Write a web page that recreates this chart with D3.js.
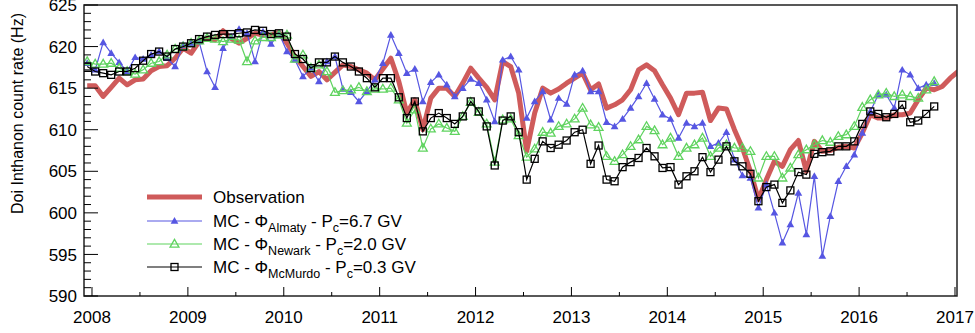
<!DOCTYPE html>
<html>
<head>
<meta charset="utf-8">
<script src="https://cdn.jsdelivr.net/npm/d3@7"></script>
<style>
  body { margin: 0; background: #fff; }
  text { font-family: "Liberation Sans", Arial, Helvetica, sans-serif; }
</style>
</head>
<body>
<div id="chart"></div>
<script>
// monthly points; first point sits just before the 2008 tick
var firstMonth = 2007.95;

var observation = [615.3, 615.3, 614.0, 615.1, 616.2, 615.4, 616.0, 616.1, 617.1, 617.6, 617.7, 618.6,
    619.8, 619.2, 620.6, 621.0, 620.8, 621.9, 621.0, 620.4, 621.0, 621.6, 621.4, 621.4,
    621.7, 620.4, 618.8, 617.6, 616.4, 617.0, 616.0, 616.9, 617.8, 617.6, 617.2, 616.8,
    616.0, 617.3, 618.6, 615.8, 612.0, 613.6, 610.0, 613.8, 615.0, 615.0, 614.0, 615.6,
    617.4, 616.2, 615.1, 613.6, 618.2, 617.6, 614.4, 607.4, 612.0, 615.0, 614.4, 614.9,
    615.6, 616.2, 616.8, 614.8, 615.5, 612.6, 613.0, 613.6, 614.8, 617.2, 617.8, 617.1,
    615.4, 613.8, 611.8, 614.4, 614.4, 614.5, 611.1, 612.6, 612.5, 610.0, 607.8, 605.0,
    601.6, 604.0, 606.2, 605.6, 607.6, 608.7, 605.0, 608.6, 607.4, 607.5, 607.9, 608.0,
    607.8, 609.6, 611.8, 611.4, 611.4, 611.8, 611.8, 612.0, 613.6, 615.0, 614.8, 615.2,
    616.2, 617.0];

var mcAlmaty = [618.0, 617.2, 620.5, 619.2, 618.1, 617.0, 618.7, 618.5, 619.0, 619.4, 618.6, 617.6,
    620.2, 620.4, 620.6, 617.0, 615.1, 619.8, 621.2, 622.1, 621.6, 618.2, 621.8, 620.3,
    621.6, 619.4, 618.4, 616.4, 617.4, 615.8, 618.2, 618.8, 614.9, 614.5, 613.4, 614.6,
    616.0, 618.0, 621.4, 619.2, 616.8, 617.3, 613.4, 615.7, 616.6, 615.4, 614.0, 615.0,
    616.1, 615.6, 613.6, 611.0, 618.4, 618.8, 617.2, 611.4, 613.4, 614.6, 611.2, 613.8,
    613.1, 616.6, 617.1, 614.6, 614.6, 610.9, 610.4, 611.3, 612.6, 614.0, 615.6, 613.7,
    611.8, 611.3, 609.0, 610.8, 610.4, 610.8, 608.0, 608.4, 609.7, 606.4, 604.5, 604.2,
    600.6, 603.4, 600.0, 596.4, 598.6, 602.4, 597.4, 604.4, 594.8, 599.6, 603.8, 605.6,
    607.0, 609.6, 612.2, 614.2, 614.2, 612.6, 617.2, 616.6, 615.0, 615.4, 615.6];

var mcNewark = [618.2, 617.9, 617.9, 618.0, 617.4, 617.0, 616.7, 617.2, 618.0, 618.2, 619.0, 619.7,
    620.0, 620.4, 620.7, 621.0, 620.9, 620.6, 620.9, 620.8, 618.2, 620.7, 621.1, 621.1,
    621.4, 621.4, 618.5, 619.0, 617.4, 617.8, 617.0, 614.5, 614.7, 614.8, 615.1, 614.6,
    614.9, 614.9, 615.0, 613.6, 610.8, 612.4, 607.8, 610.1, 610.7, 610.2, 609.8, 611.6,
    613.3, 612.1, 610.7, 606.1, 611.2, 611.3, 609.3, 606.7, 607.7, 609.7, 609.6, 610.4,
    610.7, 611.3, 612.6, 610.6, 610.3, 606.8, 606.2, 607.0, 608.0, 608.8, 610.4, 609.9,
    608.2, 609.0, 606.8, 607.8, 608.2, 609.0, 606.8, 607.8, 608.2, 607.8, 607.8, 607.4,
    604.2, 606.8, 606.8, 604.2, 605.4, 607.0, 607.6, 608.2, 608.7, 608.5, 609.2, 609.4,
    610.4, 612.7, 613.6, 614.2, 614.4, 614.0, 614.2, 614.0, 613.8, 614.8, 615.8];

var mcMcMurdo = [617.6, 617.0, 616.8, 616.6, 617.0, 617.0, 617.4, 618.3, 619.1, 619.4, 618.8, 619.7,
    620.0, 620.4, 620.9, 621.2, 621.4, 621.5, 621.5, 621.6, 621.7, 622.0, 621.9, 621.5,
    621.6, 621.2, 619.1, 618.5, 617.4, 618.1, 618.1, 618.8, 618.1, 617.6, 617.0, 616.2,
    615.1, 616.2, 616.2, 613.9, 611.4, 613.4, 609.8, 611.4, 612.0, 611.4, 610.7, 611.6,
    613.4, 612.2, 610.4, 605.7, 611.1, 611.6, 609.7, 604.0, 606.5, 608.6, 607.8, 608.2,
    608.7, 609.7, 610.0, 605.9, 608.1, 604.0, 603.8, 605.5, 606.1, 606.6, 607.8, 606.8,
    605.4, 605.5, 603.4, 604.4, 605.0, 606.7, 604.9, 606.4, 608.0, 606.2, 605.6, 604.7,
    601.4, 603.1, 603.4, 601.2, 602.7, 604.9, 604.6, 607.1, 607.3, 607.4, 608.0, 608.0,
    608.6, 610.7, 612.2, 611.9, 611.5, 611.9, 613.0, 610.9, 611.1, 611.9, 612.8];

var yearTicks = [2008, 2009, 2010, 2011, 2012, 2013, 2014, 2015, 2016, 2017];
var rateTicks = [590, 595, 600, 605, 610, 615, 620, 625];

var width = 975;
var height = 333;
var plotL = 84, plotR = 957, plotT = 5, plotB = 296;

var red = "#cf5b5b";
var blue = "#5656e2";
var green = "#5fd35f";

var x = d3.scaleLinear().domain([2007.9166, 2017.021]).range([plotL, plotR]);
var y = d3.scaleLinear().domain([590, 625]).range([plotB, plotT]);

var svg = d3.select("#chart").append("svg")
    .attr("width", width)
    .attr("height", height);

svg.append("clipPath").attr("id", "plotclip")
    .append("rect")
    .attr("x", plotL).attr("y", plotT)
    .attr("width", plotR - plotL).attr("height", plotB - plotT);

function toPoints(values) {
    return values.map(function(v, i) { return { t: firstMonth + i / 12, v: v }; });
}

var line = d3.line()
    .x(function(d) { return x(d.t); })
    .y(function(d) { return y(d.v); });

var plot = svg.append("g").attr("clip-path", "url(#plotclip)");

// observation, thick red
plot.append("path")
    .datum(toPoints(observation))
    .attr("d", line)
    .attr("fill", "none")
    .attr("stroke", red)
    .attr("stroke-width", 5)
    .attr("stroke-linejoin", "round");

var triUp = d3.symbol().type(d3.symbolTriangle);

function drawSeries(values, colour, marker) {
    var pts = toPoints(values);
    plot.append("path")
        .datum(pts)
        .attr("d", line)
        .attr("fill", "none")
        .attr("stroke", colour)
        .attr("stroke-width", 1.2);
    var g = plot.append("g");
    pts.forEach(function(d) {
        marker(g, x(d.t), y(d.v));
    });
}

function filledTriangle(colour) {
    return function(g, cx, cy) {
        g.append("path")
            .attr("d", triUp.size(26)())
            .attr("transform", "translate(" + cx + "," + (cy + 0.5) + ")")
            .attr("fill", colour);
    };
}

function openTriangle(colour) {
    return function(g, cx, cy) {
        g.append("path")
            .attr("d", triUp.size(34)())
            .attr("transform", "translate(" + cx + "," + (cy + 0.5) + ")")
            .attr("fill", "none")
            .attr("stroke", colour)
            .attr("stroke-width", 1.3);
    };
}

function openSquare(colour) {
    return function(g, cx, cy) {
        g.append("rect")
            .attr("x", cx - 3.5).attr("y", cy - 3.5)
            .attr("width", 7).attr("height", 7)
            .attr("fill", "none")
            .attr("stroke", colour)
            .attr("stroke-width", 1.3);
    };
}

drawSeries(mcAlmaty, blue, filledTriangle(blue));
drawSeries(mcNewark, green, openTriangle(green));
drawSeries(mcMcMurdo, "#000", openSquare("#000"));

// frame
svg.append("rect")
    .attr("x", plotL).attr("y", plotT)
    .attr("width", plotR - plotL).attr("height", plotB - plotT)
    .attr("fill", "none")
    .attr("stroke", "#222")
    .attr("stroke-width", 1.5);

// y ticks (major every 5, minor every 1)
var axes = svg.append("g").attr("stroke", "#000").attr("stroke-width", 1);
d3.range(590, 626, 1).forEach(function(v) {
    var len = (v % 5 === 0) ? 14 : 7;
    axes.append("line")
        .attr("x1", plotL).attr("x2", plotL + len)
        .attr("y1", y(v)).attr("y2", y(v));
});
// x ticks (major every year, minor every half year)
d3.range(2008, 2017.01, 0.5).forEach(function(t) {
    var len = (Math.abs(t - Math.round(t)) < 0.01) ? 9 : 4;
    axes.append("line")
        .attr("x1", x(t)).attr("x2", x(t))
        .attr("y1", plotB).attr("y2", plotB - len);
});

svg.append("g").selectAll("text")
    .data(rateTicks)
    .enter().append("text")
    .attr("x", 77)
    .attr("y", function(d) { return y(d); })
    .attr("dy", "0.36em")
    .attr("text-anchor", "end")
    .attr("font-size", 17)
    .text(function(d) { return d; });

svg.append("g").selectAll("text")
    .data(yearTicks)
    .enter().append("text")
    .attr("x", function(d) { return x(d); })
    .attr("y", 323)
    .attr("text-anchor", "middle")
    .attr("font-size", 17)
    .text(function(d) { return d; });

svg.append("text")
    .attr("transform", "translate(23,13)rotate(-90)")
    .attr("text-anchor", "end")
    .attr("font-size", 16)
    .text("Doi Inthanon count rate (Hz)");

// legend
var legend = svg.append("g");
var lx0 = 147, lx1 = 202, tx = 213;

legend.append("line")
    .attr("x1", lx0).attr("x2", lx1).attr("y1", 197).attr("y2", 197)
    .attr("stroke", red).attr("stroke-width", 5);
legend.append("text")
    .attr("x", tx).attr("y", 197).attr("dy", "0.36em")
    .attr("font-size", 17).text("Observation");

var entries = [
    { y: 221, colour: blue, marker: filledTriangle(blue), name: "Almaty", pc: "=6.7 GV" },
    { y: 244, colour: green, marker: openTriangle(green), name: "Newark", pc: "=2.0 GV" },
    { y: 267, colour: "#000", marker: openSquare("#000"), name: "McMurdo", pc: "=0.3 GV" }
];
entries.forEach(function(e) {
    legend.append("line")
        .attr("x1", lx0).attr("x2", lx1).attr("y1", e.y).attr("y2", e.y)
        .attr("stroke", e.colour).attr("stroke-width", 1.2);
    e.marker(legend, (lx0 + lx1) / 2, e.y);
    var t = legend.append("text")
        .attr("x", tx).attr("y", e.y + 6)
        .attr("font-size", 17);
    t.append("tspan").text("MC - \u03A6");
    t.append("tspan").attr("font-size", 12.5).attr("dy", 5).text(e.name);
    t.append("tspan").attr("dy", -5).text(" - P");
    t.append("tspan").attr("font-size", 12.5).attr("dy", 5).text("c");
    t.append("tspan").attr("dy", -5).text(e.pc);
});
</script>
</body>
</html>
